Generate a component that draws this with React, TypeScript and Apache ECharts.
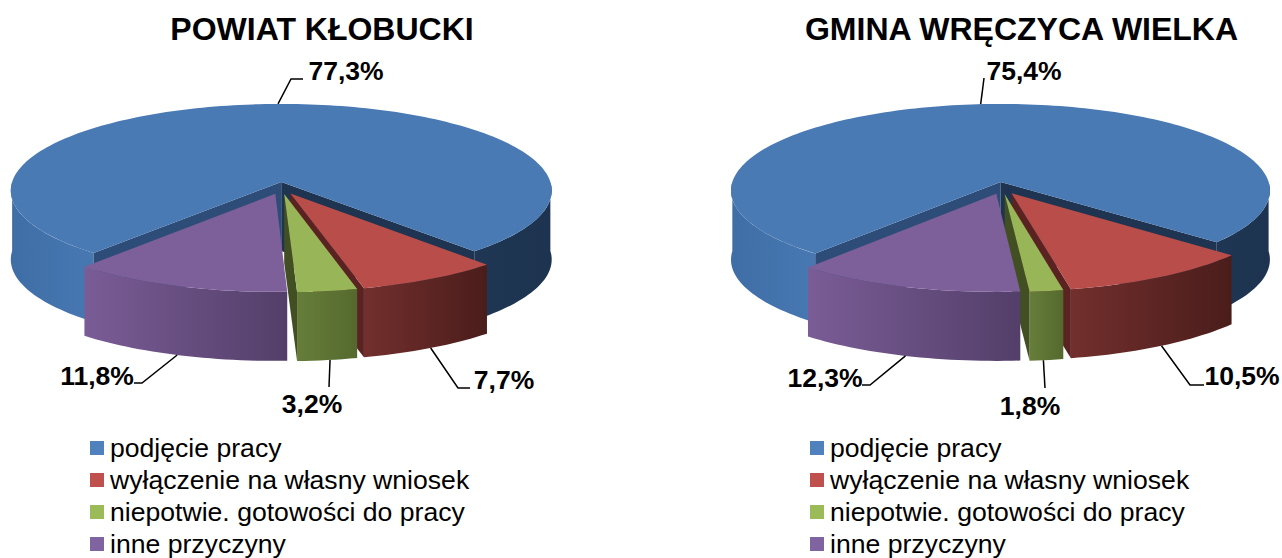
import React, { useEffect, useRef } from "react";
import * as echarts from "echarts";

const categories = ["podjęcie pracy", "wyłączenie na własny wniosek", "niepotwie. gotowości do pracy", "inne przyczyny"];
const titles = ["POWIAT KŁOBUCKI", "GMINA WRĘCZYCA WIELKA"];
const powiatValues = [77.3, 7.7, 3.2, 11.8];
const gminaValues = [75.4, 10.5, 1.8, 12.3];

const topColors = ["#4a7ab4", "#b94d4a", "#98b558", "#7d5f9a"];
const legendColors = ["#4f81bd", "#c0504d", "#9bbb59", "#8064a2"];
const wallColors = [
  ["#4878b2", "#3f6ea6"],
  ["#722f2d", "#4a1d1b"],
  ["#667e3a", "#55692e"],
  ["#7a5c96", "#533f69"],
];
const blueRightWall = ["#1f3754", "#1d3350"];
const innerColors = { blueStart: "#2d4d78", blueEnd: "#1e3451", red: "#5a2321", green: "#414f22" };

const A = 87;
const B = 0.1;
const DEPTH = 69;
const EXPLODE = 0.07;
const CY = 188;
const FONT = '"Liberation Sans", Arial, sans-serif';

const pies = [
  {
    values: powiatValues,
    cx: 281.5,
    radius: 271,
    start: 130.1,
    labels: [
      { via: [[291, 79], [303, 79]], x: 346, y: 71, lean: 0 },
      { via: [[458, 388], [470, 388]], x: 504, y: 380, lean: 0 },
      { via: [[329, 387]], x: 312, y: 404, lean: -0.5 },
      { via: [[142, 383], [134, 383]], x: 97, y: 376, lean: 0 },
    ],
  },
  {
    values: gminaValues,
    cx: 1002,
    radius: 270,
    start: 129.6,
    labels: [
      { via: [[984, 78]], x: 1024, y: 71, lean: 0 },
      { via: [[1190, 385], [1204, 385]], x: 1242, y: 376, lean: 0 },
      { via: [[1045, 388]], x: 1030, y: 406, lean: 0.6 },
      { via: [[870, 385], [862, 385]], x: 825, y: 378, lean: 0 },
    ],
  },
];

const rad = (d: number) => (d * Math.PI) / 180;

function project(cx: number, radius: number, X: number, Y: number) {
  const w = 1 - B * Y;
  return [cx + (radius * X) / w, CY + (A * Y) / w];
}

function hgrad(c: string[]) {
  return { type: "linear", x: 0, y: 0, x2: 1, y2: 0, colorStops: [{ offset: 0, color: c[0] }, { offset: 1, color: c[1] }] };
}

function makeRender(pie: (typeof pies)[number], idx: number) {
  const total = pie.values.reduce((a, b) => a + b, 0);
  let a0 = pie.start;
  for (let i = 0; i < idx; i++) a0 += (pie.values[i] / total) * 360;
  const span = (pie.values[idx] / total) * 360;
  const a1 = a0 + span;
  const mid = (a0 + a1) / 2;
  const ox = EXPLODE * Math.cos(rad(mid));
  const oy = EXPLODE * Math.sin(rad(mid));
  const p = (deg: number, r = 1) =>
    project(pie.cx, pie.radius, ox + r * Math.cos(rad(deg)), oy + r * Math.sin(rad(deg)));
  const arc = (from: number, to: number) => {
    const n = Math.max(2, Math.ceil(Math.abs(to - from) / 1.5));
    const out: number[][] = [];
    for (let i = 0; i <= n; i++) out.push(p(from + ((to - from) * i) / n));
    return out;
  };
  const down = (pts: number[][]) => pts.map(([x, y]) => [x, y + DEPTH]);
  const wall = (from: number, to: number, fill: any) => {
    const t = arc(from, to);
    return { type: "polygon", shape: { points: [...t, ...down(t).reverse()] }, style: { fill } };
  };
  const inner = (deg: number, fill: string) => {
    const c = p(0, 0);
    const e = p(deg);
    return { type: "polygon", shape: { points: [c, e, [e[0], e[1] + DEPTH], [c[0], c[1] + DEPTH]] }, style: { fill } };
  };

  return (_params: any, api: any) => {
    const value = api.value(0);
    const children: any[] = [];
    if (idx === 0) {
      children.push(wall(a0, 180, hgrad([wallColors[0][1], wallColors[0][0]])));
      children.push(wall(360, a1, hgrad(blueRightWall)));
      children.push(inner(a0, innerColors.blueStart));
      children.push(inner(a1, innerColors.blueEnd));
    } else {
      children.push(wall(a0, a1, hgrad(wallColors[idx])));
      if (idx === 1) children.push(inner(a1, innerColors.red));
      if (idx === 2) children.push(inner(a1, innerColors.green));
    }
    const top = [p(0, 0), ...arc(a0, a1)];
    children.push({ type: "polygon", shape: { points: top }, style: { fill: topColors[idx] } });

    const label = pie.labels[idx];
    const anchorBase = p(mid + label.lean);
    const anchor = idx === 0 ? anchorBase : [anchorBase[0], anchorBase[1] + DEPTH];
    children.push({
      type: "polyline",
      shape: { points: [anchor, ...label.via] },
      style: { stroke: "#000", lineWidth: 1.5, fill: "none" },
    });
    children.push({
      type: "text",
      style: {
        text: value.toFixed(1).replace(".", ",") + "%",
        x: label.x,
        y: label.y,
        fill: "#000",
        font: `bold 26.5px ${FONT}`,
        align: "center",
        verticalAlign: "middle",
      },
    });
    return { type: "group", children };
  };
}

const series: any[] = [];
pies.forEach((pie) => {
  pie.values.forEach((v, i) => {
    series.push({
      type: "custom",
      name: categories[i],
      coordinateSystem: "none",
      silent: true,
      itemStyle: { color: legendColors[i] },
      data: [[v]],
      renderItem: makeRender(pie, i),
    });
  });
});

const legendBase = {
  orient: "vertical",
  top: 434,
  itemWidth: 14,
  itemHeight: 14,
  itemGap: 4,
  padding: 0,
  selectedMode: false,
  icon: "rect",
  data: categories,
  textStyle: { fontFamily: FONT, fontSize: 26.6, color: "#000", padding: [0, 0, 0, 1], lineHeight: 28 },
};

const titleStyle = { fontFamily: FONT, fontWeight: "bold", fontSize: 32, color: "#000" };

const option: any = {
  animation: false,
  backgroundColor: "#fff",
  title: [
    { text: titles[0], left: 322, top: 13, padding: 0, textAlign: "center", textStyle: titleStyle },
    { text: titles[1], left: 1021.5, top: 13, padding: 0, textAlign: "center", textStyle: titleStyle },
  ],
  legend: [
    { ...legendBase, left: 90 },
    { ...legendBase, left: 810 },
  ],
  series,
};

export default function App() {
  const ref = useRef<HTMLDivElement>(null);
  useEffect(() => {
    const chart = echarts.init(ref.current!, null, { renderer: "svg" });
    chart.setOption(option);
    return () => chart.dispose();
  }, []);
  return <div ref={ref} style={{ position: "fixed", left: 0, top: 0, width: 1282, height: 558 }} />;
}
